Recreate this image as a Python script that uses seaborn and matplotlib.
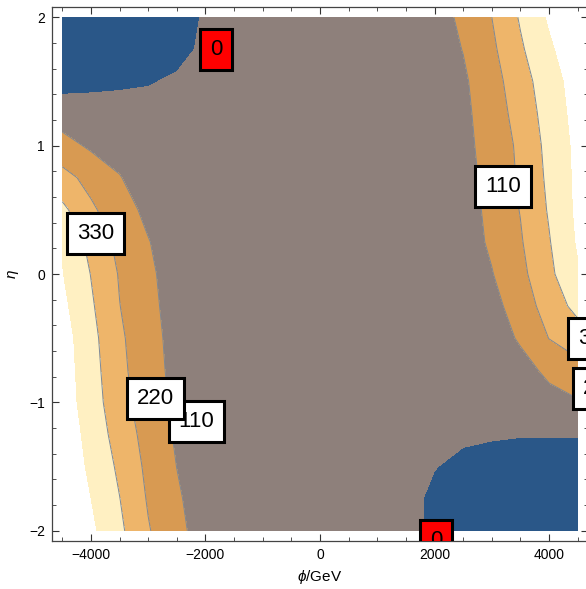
import matplotlib
matplotlib.use('Agg')
import matplotlib.pyplot as plt
from matplotlib.ticker import MultipleLocator
import seaborn as sns

# grid nodes (phi in GeV, eta)
phi = [-4500, -4000, -3500, -3000, -2500, -2000, -1500, -1000, -500, 0,
       500, 1000, 1500, 2000, 2500, 3000, 3500, 4000, 4500]
eta = [-2.0, -1.75, -1.5, -1.25, -1.0, -0.75, -0.5, -0.25, 0.0,
       0.25, 0.5, 0.75, 1.0, 1.25, 1.5, 1.75, 2.0]

# values at the grid nodes, one row per eta (bottom to top)
delta_v = [
    [575, 463, 352, 228, 139, 60, 45, 40, 36, 33, 31, 30, 30, -20, -55, -65, -70, -68, -62],
    [548, 441, 332, 210, 124, 55, 45, 40, 36, 33, 31, 30, 30, -20, -50, -60, -65, -62, -55],
    [525, 419, 310, 195, 109, 72, 55, 46, 40, 34, 28, 22, 16, 3, -21, -40, -60, -55, -45],
    [512, 403, 282, 181, 96, 66, 52, 46, 43, 40, 35, 28, 22, 18, 14, 10, 6, 5, 5],
    [497, 386, 256, 168, 85, 60, 50, 46, 44, 44, 44, 45, 46, 48, 52, 55, 62, 78, 100],
    [495, 375, 245, 159, 76, 55, 48, 44, 43, 43, 43, 45, 48, 52, 60, 62, 75, 131, 186],
    [490, 364, 237, 152, 70, 52, 45, 42, 41, 41, 42, 44, 48, 54, 62, 60, 122, 222, 272],
    [467, 345, 222, 143, 60, 48, 42, 40, 39, 39, 40, 42, 47, 53, 62, 73, 165, 264, 365],
    [445, 327, 212, 133, 54, 45, 40, 38, 37, 37, 38, 40, 45, 52, 60, 105, 191, 304, 430],
    [433, 296, 190, 115, 48, 42, 38, 36, 35, 35, 36, 38, 42, 48, 58, 127, 210, 323, 453],
    [355, 238, 157, 84, 50, 42, 38, 35, 34, 34, 35, 37, 41, 47, 58, 140, 224, 340, 463],
    [256, 186, 115, 55, 45, 40, 36, 34, 33, 33, 34, 36, 40, 46, 68, 149, 234, 352, 465],
    [150, 93, 70, 55, 45, 40, 36, 33, 32, 32, 33, 35, 40, 48, 78, 157, 240, 363, 468],
    [55, 50, 45, 42, 40, 38, 35, 33, 32, 32, 33, 35, 40, 50, 85, 167, 260, 378, 478],
    [-37, -28, -18, -8, 15, 30, 33, 32, 31, 31, 32, 35, 42, 55, 94, 178, 282, 393, 488],
    [-55, -50, -45, -40, -35, 22, 30, 30, 30, 30, 31, 34, 42, 58, 113, 199, 315, 421, 525],
    [-65, -60, -55, -48, -32, 8, 25, 28, 28, 28, 29, 33, 42, 60, 134, 220, 341, 456, 572],
]

levels = [-200, 0, 110, 220, 330, 440]
band_colors = ['#2a5788', '#8e807b', '#d89a52', '#eeb56a', '#fff0c2']
line_levels = [110, 220, 330]

# contour labels: text, phi, eta, box colour (drawn in this order)
label_text = ['0', '0', '110', '330', '110', '220', '330', '220']
label_phi = [-1812, 2023, 3200, -3925, -2157, -2868, 4835, 4910]
label_eta = [1.745, -2.075, 0.678, 0.317, -1.150, -0.968, -0.506, -0.888]
label_face = ['#ff0000', '#ff0000', 'white', 'white', 'white', 'white', 'white', 'white']

sns.set_theme(style='ticks')
plt.rcParams['font.family'] = ['Liberation Sans', 'DejaVu Sans']
plt.rcParams['mathtext.fontset'] = 'custom'
plt.rcParams['mathtext.it'] = 'Liberation Sans:italic'
plt.rcParams['mathtext.rm'] = 'Liberation Sans'

fig = plt.figure(figsize=(5.86, 5.89), dpi=100)
ax = fig.add_axes([52 / 586, 48 / 589, 536 / 586, 534 / 589])
ax.set_facecolor('white')

ax.contourf(phi, eta, delta_v, levels=levels, colors=band_colors)
ax.contour(phi, eta, delta_v, levels=line_levels, colors='#7d8896', linewidths=0.7)

for t, x, y, fc in zip(label_text, label_phi, label_eta, label_face):
    txt = ax.text(x, y, t, fontsize=16, ha='center', va='center', color='black',
                  clip_on=True, zorder=5,
                  bbox=dict(boxstyle='square,pad=0.45', facecolor=fc,
                            edgecolor='black', linewidth=2.2))
    txt.get_bbox_patch().set_clip_path(ax.patch)

ax.set_xlim(-4680, 4680)
ax.set_ylim(-2.079, 2.079)
ax.xaxis.set_major_locator(MultipleLocator(2000))
ax.xaxis.set_minor_locator(MultipleLocator(500))
ax.yaxis.set_major_locator(MultipleLocator(1))
ax.yaxis.set_minor_locator(MultipleLocator(0.2))
ax.tick_params(which='both', direction='in', top=True, right=True,
               colors='#333333', labelcolor='#000000', labelsize=10, pad=5)
ax.tick_params(which='major', length=5, width=0.8)
ax.tick_params(which='minor', length=3, width=0.6)
for s in ax.spines.values():
    s.set_color('#444444')
    s.set_linewidth(0.9)

ax.set_xlabel(r'$\phi$/GeV', fontsize=11, color='#000000', labelpad=4)
ax.set_ylabel(r'$\eta$', fontsize=11, color='#000000', labelpad=6)

fig.savefig('out.png', dpi=100)
